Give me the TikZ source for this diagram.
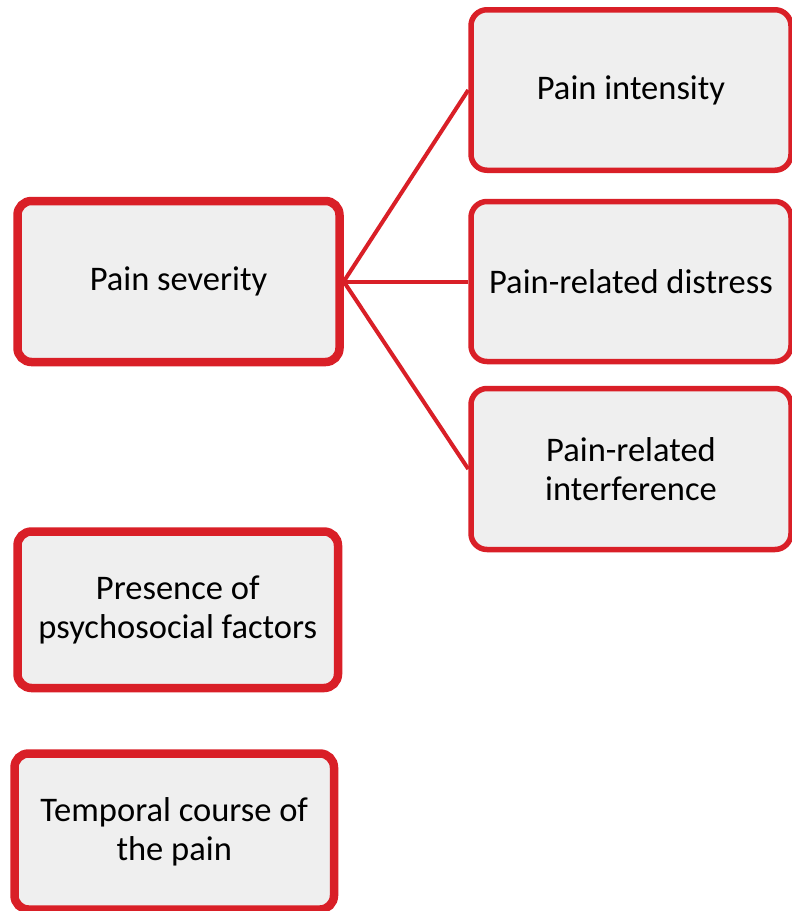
\documentclass[tikz,border=0pt]{standalone}
\usepackage{fontspec}
\setmainfont{Carlito}
\definecolor{boxred}{HTML}{D91F27}
\definecolor{boxfill}{HTML}{EFEFEF}
\begin{document}
\begin{tikzpicture}[x=1pt,y=-1pt,
  basebox/.style={draw=boxred,fill=boxfill,align=center,inner sep=0pt,
    font=\fontsize{34.5}{39}\selectfont,text=black},
  leftbox/.style={basebox,line width=8.5pt,rounded corners=14pt},
  rightbox/.style={basebox,line width=5.5pt,rounded corners=16pt},
  link/.style={draw=boxred,line width=4pt}]
\useasboundingbox (0,0) rectangle (792,911);
\node[leftbox,minimum width=322pt,minimum height=161pt] (sev) at (178.5,281.5) {\raisebox{-3pt}{Pain severity}};
\node[rightbox,minimum width=320pt,minimum height=160.5pt] (int) at (631,90) {\raisebox{-3pt}{Pain intensity}};
\node[rightbox,minimum width=320pt,minimum height=160pt] (dis) at (631,281.5) {\raisebox{-3pt}{Pain-related distress}};
\node[rightbox,minimum width=320pt,minimum height=161pt] (inf) at (631,469) {Pain-related\\interference};
\node[leftbox,minimum width=320.5pt,minimum height=156.5pt] (psy) at (177.75,609.75) {Presence of\\psychosocial factors};
\node[leftbox,minimum width=319.5pt,minimum height=156pt] (tmp) at (174.25,831.5) {Temporal course of\\the pain};
\draw[link] (sev.east) -- (int.west);
\draw[link] (sev.east) -- (dis.west);
\draw[link] (sev.east) -- (inf.west);
\end{tikzpicture}
\end{document}
